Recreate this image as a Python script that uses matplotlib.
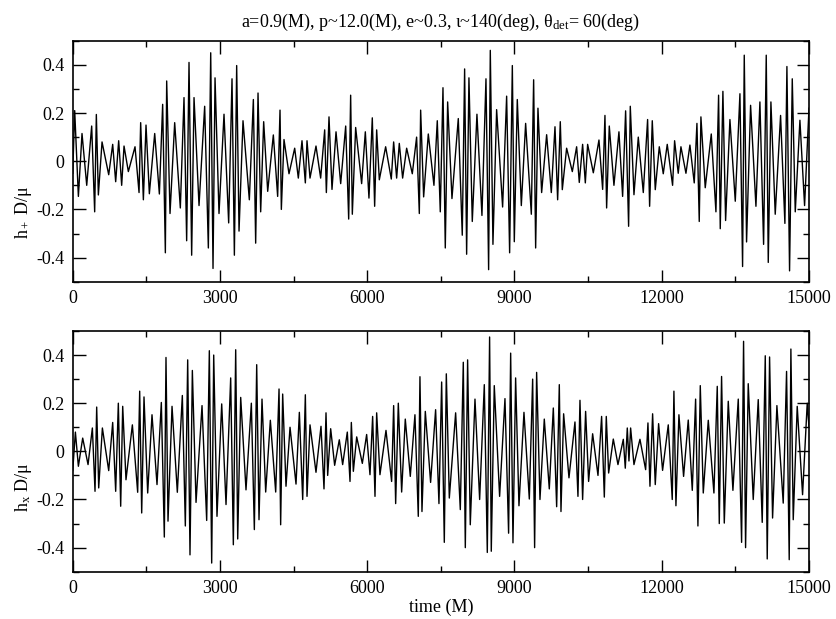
import matplotlib
matplotlib.use("Agg")
import matplotlib.pyplot as plt
from matplotlib.ticker import MultipleLocator

plt.rcParams['font.family'] = ['Liberation Serif', 'DejaVu Serif']
plt.rcParams['mathtext.fontset'] = 'custom'
plt.rcParams['mathtext.rm'] = 'Liberation Serif'
plt.rcParams['mathtext.it'] = 'Liberation Serif:italic'

# ---- data: extrema (time in M, strain h*D/mu) ----
t_plus = [0, 40, 115, 189, 285, 386, 447, 481, 522, 597,
          733, 814, 875, 936, 997, 1045, 1133, 1269, 1351, 1384,
          1439, 1493, 1561, 1670, 1765, 1832, 1887, 1914, 1982, 2077,
          2192, 2267, 2321, 2369, 2423, 2471, 2573, 2688, 2763, 2811,
          2858, 2899, 2980,
          3082, 3177, 3245, 3293, 3340, 3388, 3469, 3598, 3680, 3727,
          3775, 3829, 3890, 3972, 4087, 4175, 4223, 4250, 4304, 4406,
          4522, 4596, 4671, 4739, 4773, 4834, 4956, 5051, 5133, 5167,
          5221, 5282, 5364, 5459, 5561, 5622, 5662, 5696, 5764, 5886,
          5961, 6035, 6103, 6151, 6192, 6246, 6375, 6490, 6538, 6599,
          6653, 6721, 6803, 6918, 7006, 7061, 7088, 7149, 7244, 7359,
          7427, 7488, 7543, 7590, 7638, 7726, 7855, 7936, 7984, 8025,
          8072, 8140, 8235, 8337, 8419, 8473, 8507, 8561, 8636, 8758,
          8840, 8901,
          8956, 8996, 9057, 9139, 9227, 9343, 9390, 9431, 9478, 9553,
          9655, 9750, 9825, 9879, 9933, 9974, 10062, 10178, 10266, 10320,
          10388, 10443, 10490, 10606, 10721, 10796, 10843, 10877, 10931, 11026,
          11128, 11203, 11264, 11325, 11359, 11434, 11522, 11624, 11712, 11753,
          11807, 11868, 11950,
          12031, 12112, 12221, 12262, 12336, 12391, 12493, 12574, 12662, 12717,
          12764, 12798, 12886, 13009, 13104, 13158, 13192, 13246, 13301, 13389,
          13498, 13593, 13647, 13681, 13728, 13810, 13919, 14000, 14075, 14129,
          14170, 14224, 14312, 14421, 14509, 14550, 14604, 14659, 14720, 14815,
          14910, 15000]
h_plus = [-0.05, 0.21, -0.146, 0.115, -0.10, 0.146, -0.21, 0.194, -0.14, 0.08,
          -0.056, 0.07, -0.085, 0.085, -0.10, 0.063, -0.043, 0.06, -0.13, 0.16,
          -0.16, 0.15, -0.135, 0.115, -0.136, 0.236, -0.38, 0.333, -0.217, 0.16,
          -0.194, 0.264, -0.33, 0.41, -0.39, 0.264, -0.184, 0.228, -0.36, 0.45,
          -0.445, 0.346, -0.217,
          0.195, -0.256, 0.342, -0.39, 0.397, -0.29, 0.168, -0.16, 0.256, -0.34,
          0.283, -0.21, 0.164, -0.125, 0.109, -0.146, 0.212, -0.20, 0.09, -0.052,
          0.054, -0.07, 0.085, -0.09, 0.085, -0.07, 0.063, -0.07, 0.13, -0.13,
          0.184, -0.117, 0.122, -0.093, 0.146, -0.24, 0.274, -0.22, 0.14, -0.093,
          0.122, -0.153, 0.18, -0.187, 0.13, -0.077, 0.06, -0.074, 0.08, -0.07,
          0.074, -0.07, 0.054, -0.052, 0.10, -0.217, 0.212, -0.148, 0.113, -0.10,
          0.168, -0.21, 0.305, -0.36, 0.246, -0.155, 0.177, -0.307, 0.383, -0.386,
          0.346, -0.25, 0.195, -0.225, 0.342, -0.45, 0.46, -0.345, 0.214, -0.19,
          0.27, -0.38,
          0.397, -0.334, 0.256, -0.184, 0.157, -0.22, 0.338, -0.36, 0.22, -0.13,
          0.11, -0.13, 0.143, -0.16, 0.164, -0.118, 0.054, -0.043, 0.06, -0.088,
          0.07, -0.09, 0.07, -0.048, 0.088, -0.117, 0.19, -0.194, 0.146, -0.10,
          0.122, -0.146, 0.209, -0.27, 0.228, -0.139, 0.10, -0.13, 0.173, -0.187,
          0.168, -0.118, 0.06,
          -0.052, 0.07, -0.10, 0.085, -0.05, 0.06, -0.05, 0.067, -0.09, 0.157,
          -0.25, 0.184, -0.11, 0.113, -0.21, 0.274, -0.28, 0.29, -0.246, 0.173,
          -0.166, 0.28, -0.437, 0.44, -0.335, 0.232, -0.187, 0.246, -0.345, 0.44,
          -0.42, 0.246, -0.22, 0.19, -0.258, 0.393, -0.455, 0.342, -0.21, 0.17,
          -0.184, 0.22]

t_cross = [0, 54, 115, 203, 312, 400, 454, 488, 529, 604,
           733, 814, 875, 929, 977, 1018, 1085, 1215, 1323, 1364,
           1405, 1452, 1527, 1615, 1717, 1805, 1866, 1900, 1941, 2023,
           2131, 2233, 2294, 2342, 2389, 2437, 2512, 2634, 2729, 2783,
           2831, 2872, 2939,
           3035, 3123, 3218, 3272, 3320, 3361, 3422, 3530, 3639, 3700,
           3748, 3795, 3856, 3931, 4026, 4135, 4203, 4236, 4277, 4345,
           4427, 4549, 4617, 4685, 4739, 4773, 4834, 4956, 5058, 5119,
           5160, 5194, 5255, 5336, 5431, 5499, 5594, 5649, 5676, 5717,
           5785, 5900, 5988,
           6056, 6110, 6158, 6192, 6259, 6382, 6497, 6538, 6579, 6633,
           6701, 6775, 6877, 6972, 7040, 7074, 7115, 7183, 7291, 7393,
           7461, 7516, 7570, 7611, 7672, 7801, 7896, 7957, 7998, 8045,
           8099, 8195, 8290, 8385, 8446, 8493, 8527, 8588, 8697, 8806,
           8880,
           8922, 8969, 9023, 9091, 9193, 9302, 9370, 9410, 9451, 9519,
           9607, 9709, 9791, 9859, 9913, 9947, 10001, 10110, 10232, 10293,
           10334, 10388, 10449, 10510, 10592, 10701, 10775, 10830, 10870, 10918,
           11013, 11108, 11217, 11257, 11298, 11332, 11366, 11434, 11556, 11672,
           11719, 11760, 11814, 11868, 11936,
           12017, 12133, 12214, 12248, 12289, 12350, 12445, 12540, 12622, 12690,
           12737, 12785, 12846, 12948, 13063, 13131, 13172, 13219, 13274, 13355,
           13450, 13559, 13627, 13667, 13708, 13762, 13864, 13966, 14047, 14109,
           14149, 14197, 14258, 14346, 14475, 14543, 14597, 14631, 14679, 14760,
           14869, 14964, 15000]
h_cross = [-0.08, 0.08, -0.062, 0.055, -0.055, 0.097, -0.166, 0.184, -0.152, 0.097,
           -0.08, 0.12, -0.166, 0.20, -0.228, 0.187, -0.118, 0.11, -0.17, 0.25,
           -0.256, 0.226, -0.173, 0.152, -0.138, 0.203, -0.356, 0.39, -0.29, 0.187,
           -0.17, 0.232, -0.31, 0.38, -0.43, 0.336, -0.212, 0.19, -0.287, 0.418,
           -0.464, 0.40, -0.27,
           0.197, -0.221, 0.305, -0.388, 0.422, -0.364, 0.224, -0.16, 0.20, -0.325,
           0.36, -0.284, 0.217, -0.169, 0.129, -0.169, 0.259, -0.305, 0.238, -0.145,
           0.10, -0.136, 0.162, -0.20, 0.235, -0.187, 0.11, -0.087, 0.104, -0.156,
           0.16, -0.10, 0.094, -0.058, 0.048, -0.055, 0.08, -0.125, 0.12, -0.083,
           0.06, -0.05, 0.07,
           -0.097, 0.145, -0.187, 0.16, -0.097, 0.087, -0.125, 0.19, -0.217, 0.20,
           -0.169, 0.134, -0.104, 0.152, -0.27, 0.31, -0.25, 0.166, -0.129, 0.173,
           -0.217, 0.288, -0.378, 0.322, -0.194, 0.16, -0.242, 0.37, -0.40, 0.38,
           -0.305, 0.217, -0.20, 0.277, -0.42, 0.475, -0.415, 0.273, -0.187, 0.219,
           -0.34,
           0.408, -0.38, 0.305, -0.226, 0.162, -0.198, 0.30, -0.40, 0.328, -0.20,
           0.134, -0.156, 0.18, -0.23, 0.277, -0.25, 0.156, -0.11, 0.122, -0.187,
           0.212, -0.20, 0.166, -0.125, 0.073, -0.10, 0.145, -0.19, 0.145, -0.09,
           0.051, -0.055, 0.05, -0.07, 0.097, -0.04, 0.097, -0.055, 0.05, -0.076,
           0.118, -0.145, 0.156, -0.138, 0.115,
           -0.079, 0.11, -0.20, 0.25, -0.226, 0.152, -0.104, 0.13, -0.162, 0.217,
           -0.31, 0.273, -0.173, 0.129, -0.173, 0.27, -0.30, 0.311, -0.298, 0.208,
           -0.162, 0.217, -0.378, 0.457, -0.40, 0.281, -0.20, 0.215, -0.295, 0.397,
           -0.447, 0.392, -0.277, 0.19, -0.215, 0.332, -0.45, 0.425, -0.284, 0.187,
           -0.18, 0.20, 0.10]

x_ticks = [0, 3000, 6000, 9000, 12000, 15000]
x_ticklabels = ['0', '3000', '6000', '9000', '12000', '15000']
y_ticks = [-0.4, -0.2, 0.0, 0.2, 0.4]
y_ticklabels = ['-0.4', '-0.2', '0', '0.2', '0.4']

title = r"a=0.9(M), p~12.0(M), e~0.3, ι~140(deg), θ$_{\mathrm{det}}$= 60(deg)"
ylabel_plus = r"h$_+$ D/μ"
ylabel_cross = r"h$_{\mathrm{x}}$ D/μ"
xlabel = "time (M)"

assert len(t_plus) == len(h_plus), (len(t_plus), len(h_plus))
assert len(t_cross) == len(h_cross), (len(t_cross), len(h_cross))

fig = plt.figure(figsize=(8.36, 6.19), dpi=100)
ax1 = fig.add_axes([0.087, 0.5449, 0.8807, 0.3893])
ax2 = fig.add_axes([0.087, 0.0764, 0.8807, 0.3889])

FS = 13
for ax, t, h, yl, ly in [(ax1, t_plus, h_plus, ylabel_plus, 0.29),
                         (ax2, t_cross, h_cross, ylabel_cross, 0.35)]:
    ax.plot(t, h, color='black', lw=1.0)
    ax.set_xlim(0, 15000)
    ax.set_ylim(-0.5, 0.5)
    ax.set_xticks(x_ticks)
    ax.set_xticklabels(x_ticklabels)
    ax.set_yticks(y_ticks)
    ax.set_yticklabels(y_ticklabels)
    ax.xaxis.set_minor_locator(MultipleLocator(1500))
    ax.yaxis.set_minor_locator(MultipleLocator(0.1))
    ax.tick_params(which='both', direction='in', top=True, right=True,
                   labelsize=FS, width=1.0, colors='black')
    ax.tick_params(which='major', length=9, pad=6)
    ax.tick_params(which='minor', length=4.5)
    for s in ax.spines.values():
        s.set_linewidth(1.2)
    ax.set_ylabel(yl, fontsize=FS)
    ax.yaxis.set_label_coords(-0.053, ly)

ax1.set_title(title, fontsize=13, pad=10)
ax2.set_xlabel(xlabel, fontsize=FS, labelpad=1)

fig.savefig("out.png", dpi=100)
